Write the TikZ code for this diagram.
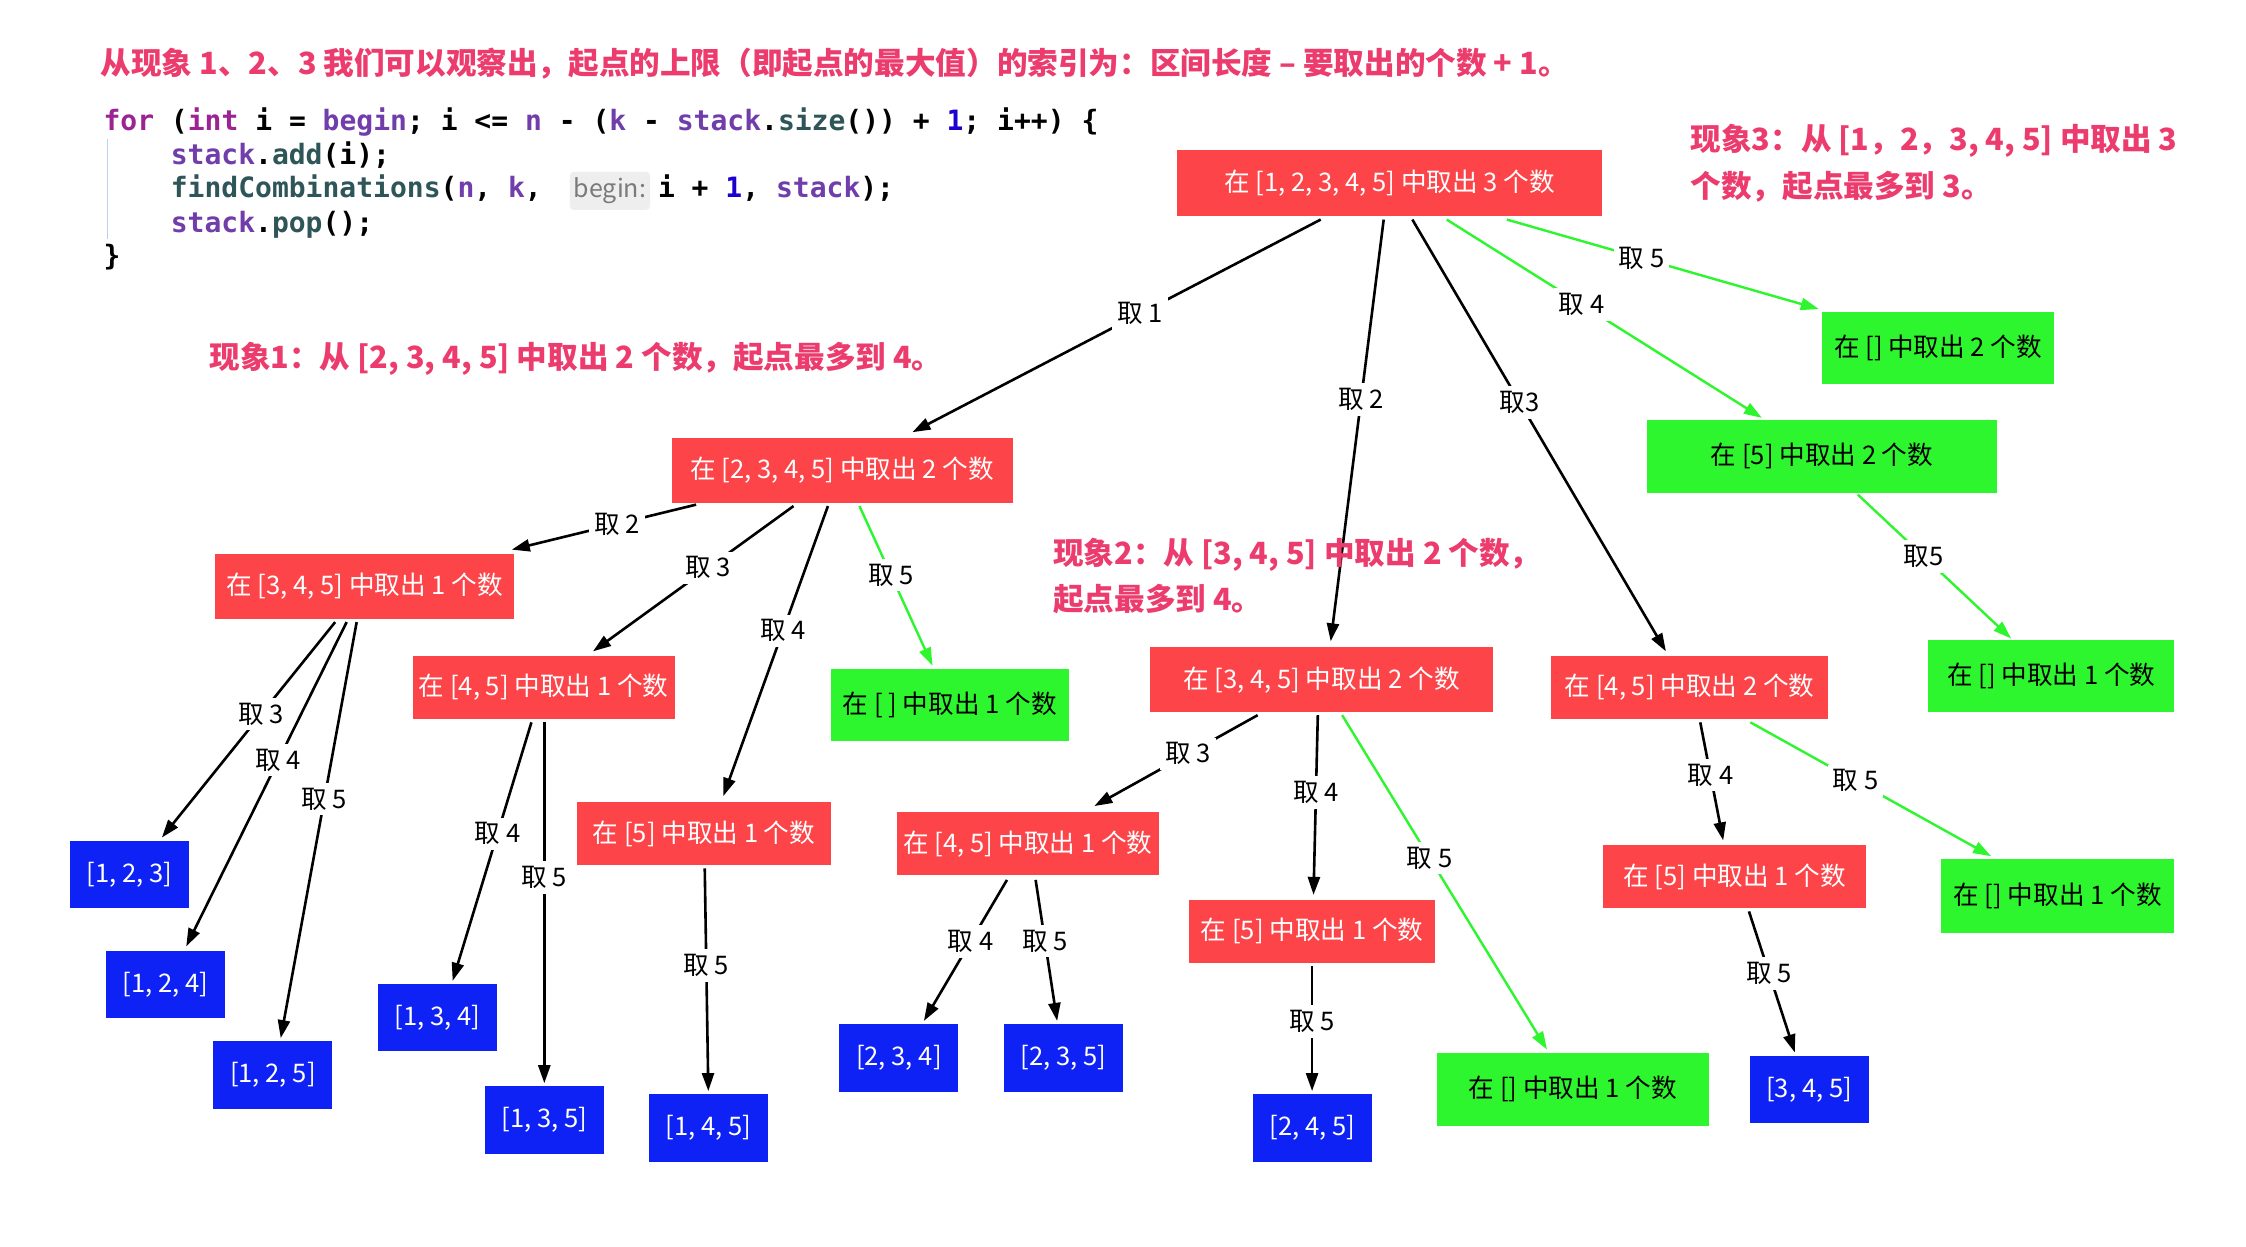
\documentclass[tikz,border=0pt]{standalone}
\usepackage{fontspec}
\setmainfont{Noto Sans CJK SC}
\newfontfamily\codefont{DejaVu Sans Mono}[BoldFont={DejaVu Sans Mono Bold}]
\usetikzlibrary{arrows.meta,calc}
\definecolor{boxred}{HTML}{FC4449}
\definecolor{boxgreen}{HTML}{2EF62E}
\definecolor{boxblue}{HTML}{0E22F5}
\definecolor{pinkc}{HTML}{EC3C6E}
\definecolor{kwc}{HTML}{9B2393}
\definecolor{varc}{HTML}{703DAA}
\definecolor{func}{HTML}{2E5558}
\definecolor{numc}{HTML}{1C00CF}
\definecolor{hintbg}{HTML}{EEEEEE}
\definecolor{hintfg}{HTML}{7A7A7A}
\definecolor{guidec}{HTML}{BCD2E8}
\newcommand\ckw[1]{\textcolor{kwc}{#1}}
\newcommand\cvar[1]{\textcolor{varc}{#1}}
\newcommand\cfun[1]{\textcolor{func}{#1}}
\newcommand\cnum[1]{\textcolor{numc}{#1}}
\newcommand\myboxfont{\fontsize{12.8}{15}\selectfont}
\newcommand\mynotefont{\bfseries\fontsize{15.3}{18}\selectfont}
\newcommand\mycodefont{\codefont\bfseries\fontsize{14}{16}\selectfont}
\newdimen\ux \ux=0.716pt
\begin{document}
\begin{tikzpicture}[x=0.716pt,y=-0.716pt,
  box/.style={draw=none, inner sep=0pt, text=white, font=\myboxfont, align=center},
  redbox/.style={box, fill=boxred, minimum height=45\ux},
  greenbox/.style={box, fill=boxgreen, text=black, minimum height=50\ux},
  bluebox/.style={box, fill=boxblue, minimum width=83\ux, minimum height=47\ux},
  edge/.style={draw=black, line width=1.3pt, -{Triangle[length=9pt,width=6pt]}},
  gedge/.style={edge, draw=boxgreen, line width=1.2pt},
  lbl/.style={fill=white, inner sep=2.5pt, text=black, font=\myboxfont},
  note/.style={anchor=base west, inner sep=0pt, text=pinkc, font=\mynotefont},
  codeline/.style={anchor=base west, inner sep=0pt, font=\mycodefont}]
\fill[white] (0,0) rectangle (1568,870);
\useasboundingbox (0,0) rectangle (1568,870);

% title
\node[note] (title) at (70,52) {从现象 1、2、3 我们可以观察出，起点的上限（即起点的最大值）的索引为：区间长度 – 要取出的个数 + 1。};

% code
\draw[guidec, line width=0.7pt] (75,97) -- (75,167);
\node[codeline] (c1) at (72,91) {\ckw{for} (\ckw{int} i = \cvar{begin}; i <= \cvar{n} - (\cvar{k} - \cvar{stack}.\cfun{size}()) + \cnum{1}; i++) \{};
\node[codeline] (c2) at (119,115) {\cvar{stack}.\cfun{add}(i);};
\node[codeline] (c3a) at (119,138) {\cfun{findCombinations}(\cvar{n}, \cvar{k},};
\node[anchor=base west, fill=hintbg, rounded corners=2pt, inner xsep=2pt, inner ysep=3pt, text=hintfg, font=\fontsize{12.5}{15}\selectfont] (hint) at ($(c3a.base east)+(19,0)$) {begin:};
\node[codeline] (c3b) at ($(hint.base east)+(5,0)$) {i + \cnum{1}, \cvar{stack});};
\node[codeline] (c4) at (119,162) {\cvar{stack}.\cfun{pop}();};
\node[codeline] (c5) at (72,185) {\}};

% tree nodes
\node[redbox, minimum width=297\ux, minimum height=46\ux] (root) at (970,128) {在 [1, 2, 3, 4, 5] 中取出 3 个数};
\node[redbox, minimum width=238\ux] (A) at (588,328.5) {在 [2, 3, 4, 5] 中取出 2 个数};
\node[redbox, minimum width=239\ux] (B) at (922.5,474.5) {在 [3, 4, 5] 中取出 2 个数};
\node[redbox, minimum width=193\ux, minimum height=44\ux] (C) at (1179.5,480) {在 [4, 5] 中取出 2 个数};
\node[greenbox, minimum width=244\ux, minimum height=51\ux] (D) at (1272,318.5) {在 [5] 中取出 2 个数};
\node[greenbox, minimum width=162\ux] (E) at (1353,243) {在 [] 中取出 2 个数};
\node[greenbox, minimum width=172\ux] (F) at (1432,472) {在 [] 中取出 1 个数};
\node[redbox, minimum width=209\ux] (A1) at (254.5,409.5) {在 [3, 4, 5] 中取出 1 个数};
\node[redbox, minimum width=183\ux, minimum height=44\ux] (A2) at (379.5,480) {在 [4, 5] 中取出 1 个数};
\node[redbox, minimum width=177\ux, minimum height=44\ux] (A3) at (491.5,582) {在 [5] 中取出 1 个数};
\node[greenbox, minimum width=166\ux] (A4) at (663,492) {在 [ ] 中取出 1 个数};
\node[redbox, minimum width=183\ux, minimum height=44\ux] (B1) at (717.5,589) {在 [4, 5] 中取出 1 个数};
\node[redbox, minimum width=172\ux, minimum height=44\ux] (B2) at (916,650) {在 [5] 中取出 1 个数};
\node[greenbox, minimum width=190\ux, minimum height=51\ux] (B3) at (1098,760.5) {在 [] 中取出 1 个数};
\node[redbox, minimum width=184\ux, minimum height=44\ux] (C1) at (1211,612) {在 [5] 中取出 1 个数};
\node[greenbox, minimum width=163\ux, minimum height=51\ux] (C2) at (1436.5,625.5) {在 [] 中取出 1 个数};
\node[bluebox] (L123) at (90.5,610.5) {[1, 2, 3]};
\node[bluebox] (L124) at (115.5,687.5) {[1, 2, 4]};
\node[bluebox] (L125) at (190.5,750.5) {[1, 2, 5]};
\node[bluebox] (L134) at (305.5,710.5) {[1, 3, 4]};
\node[bluebox] (L135) at (380,782) {[1, 3, 5]};
\node[bluebox] (L145) at (494.5,787.5) {[1, 4, 5]};
\node[bluebox] (L234) at (627.5,738.5) {[2, 3, 4]};
\node[bluebox] (L235) at (742.5,738.5) {[2, 3, 5]};
\node[bluebox] (L245) at (916.5,787.5) {[2, 4, 5]};
\node[bluebox] (L345) at (1263,760.5) {[3, 4, 5]};

% edges
\draw[edge] ($(root.south)+(-48,2)$) -- node[lbl,pos=0.442]{取 1} ($(A.north)+(49,-4)$);
\draw[edge] ($(root.south)+(-4,2)$) -- node[lbl,pos=0.427]{取 2} ($(B.north)+(6.5,-4)$);
\draw[edge] ($(root.south)+(16,2)$) -- node[lbl,pos=0.424]{取3} ($(C.north)+(-16.5,-3)$);
\draw[gedge] ($(root.south)+(40,2)$) -- node[lbl,pos=0.4285]{取 4} ($(D.north)+(-42,-1)$);
\draw[gedge] ($(root.south)+(82,2)$) -- node[lbl,pos=0.432]{取 5} ($(E.north west)+(-2,-2)$);
\draw[gedge] ($(D.south)+(25,1)$) -- node[lbl,pos=0.43]{取5} ($(F.north)+(-28,-1)$);
\draw[edge] ($(A.south)+(-102,1)$) -- node[lbl,pos=0.429]{取 2} ($(A1.north east)+(-2,-3)$);
\draw[edge] ($(A.south)+(-34,2)$) -- node[lbl,pos=0.425]{取 3} ($(A2.north)+(34.5,-3)$);
\draw[edge] ($(A.south)+(-10,2)$) -- node[lbl,pos=0.43]{取 4} ($(A3.north)+(13.5,-4)$);
\draw[gedge] ($(A.south)+(12,2)$) -- node[lbl,pos=0.433]{取 5} ($(A4.north)+(-12,-2)$);
\draw[edge] ($(A1.south)+(-20.5,2)$) -- node[lbl,pos=0.426]{取 3} ($(L123.north)+(22.5,-2)$);
\draw[edge] ($(A1.south)+(-12.5,2)$) -- node[lbl,pos=0.426]{取 4} ($(L124.north)+(14.5,-3)$);
\draw[edge] ($(A1.south)+(-5.5,2)$) -- node[lbl,pos=0.426]{取 5} ($(L125.north)+(5.5,-2)$);
\draw[edge] ($(A2.south)+(-8.5,2)$) -- node[lbl,pos=0.431]{取 4} ($(L134.north)+(10.5,-2)$);
\draw[edge] ($(A2.south)+(0.5,2)$) -- node[lbl,pos=0.43]{取 5} ($(L135.north)+(0,-2)$);
\draw[edge] ($(A3.south)+(0.5,2)$) -- node[lbl,pos=0.436]{取 5} ($(L145.north)+(0,-2)$);
\draw[edge] ($(B.south)+(-44.5,2)$) -- node[lbl,pos=0.425]{取 3} ($(B1.north)+(46.5,-4)$);
\draw[edge] ($(B.south)+(-2.5,2)$) -- node[lbl,pos=0.43]{取 4} ($(B2.north)+(1,-3)$);
\draw[gedge] ($(B.south)+(14.5,2)$) -- node[lbl,pos=0.427]{取 5} ($(B3.north)+(-18,-2)$);
\draw[edge] ($(B1.south)+(-14.5,3)$) -- node[lbl,pos=0.438]{取 4} ($(L234.north)+(17.5,-2)$);
\draw[edge] ($(B1.south)+(5.5,3)$) -- node[lbl,pos=0.434]{取 5} ($(L235.north)+(-4.5,-2)$);
\draw[edge] ($(B2.south)+(0,2)$) -- node[lbl,pos=0.443]{取 5} ($(L245.north)+(-0.5,-2)$);
\draw[edge] ($(C.south)+(7.5,2)$) -- node[lbl,pos=0.446]{取 4} ($(C1.north)+(-8,-3)$);
\draw[gedge] ($(C.south)+(42.5,2)$) -- node[lbl,pos=0.437]{取 5} ($(C2.north)+(-46.5,-2)$);
\draw[edge] ($(C1.south)+(10,2)$) -- node[lbl,pos=0.44]{取 5} ($(L345.north)+(-10,-2)$);

% notes
\node[note] (n1) at (146,257) {现象1：从 [2, 3, 4, 5] 中取出 2 个数，起点最多到 4。};
\node[note] (n2a) at (735,394) {现象2：从 [3, 4, 5] 中取出 2 个数，};
\node[note] (n2b) at (735,426) {起点最多到 4。};
\node[note] (n3a) at (1180,105) {现象3：从 [1，2，3, 4, 5] 中取出 3};
\node[note] (n3b) at (1180,138) {个数，起点最多到 3。};
\end{tikzpicture}
\end{document}
